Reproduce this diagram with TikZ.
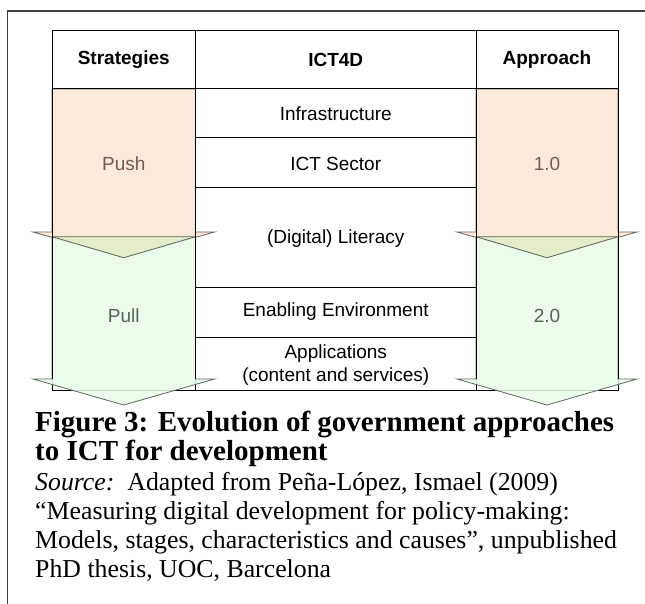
\documentclass[tikz,border=0pt]{standalone}
\usepackage{fontspec}
\setmainfont{Liberation Serif}
\newfontfamily\arialf{Liberation Sans}
\definecolor{pushfill}{HTML}{FDE9D9}
\definecolor{pullfill}{HTML}{E8FCE8}
\definecolor{mixfill}{HTML}{E6EDCC}
\definecolor{arrline}{HTML}{5F665F}
\definecolor{pushtxt}{HTML}{6E5E52}
\definecolor{pulltxt}{HTML}{55655A}
\begin{document}
\begin{tikzpicture}[x=1pt,y=-1pt,
  tline/.style={line width=1pt,black},
  arrout/.style={draw=arrline,line width=0.8pt,line join=miter},
  hdr/.style={font=\arialf\fontsize{19}{23}\selectfont\bfseries,inner sep=0pt},
  cell/.style={font=\arialf\fontsize{19}{23.5}\selectfont,inner sep=0pt,align=center},
  pushlbl/.style={cell,text=pushtxt},
  pulllbl/.style={cell,text=pulltxt},
  capbold/.style={font=\fontsize{29}{30}\selectfont\bfseries,inner sep=0pt,anchor=base west},
  capnorm/.style={font=\fontsize{25.8}{29}\selectfont,inner sep=0pt,anchor=base west}]
\useasboundingbox (0,0) rectangle (645,604);
% frame
\draw[line width=1.6pt,black!75] (7.5,604) -- (7.5,11) -- (645,11);
% table lines (base layer)
\draw[tline] (52,30.7) rectangle (618,390.7);
\draw[tline] (52,89) -- (618,89);
\draw[tline] (195.5,30.7) -- (195.5,390.7);
\draw[tline] (476,30.7) -- (476,390.7);
\foreach \yy in {138,188,287,337} \draw[tline] (195.5,\yy) -- (476,\yy);
% arrows
\foreach \xa/\xb in {52/195.5,476/618}{
  \pgfmathsetmacro{\xc}{(\xa+\xb)/2}
  \pgfmathsetmacro{\xl}{\xa-19}
  \pgfmathsetmacro{\xr}{\xb+19}
  % orange (push) arrow
  \filldraw[fill=pushfill,arrout] (\xa,89) -- (\xb,89) -- (\xb,232) -- (\xr,232)
     -- (\xc,257.7) -- (\xl,232) -- (\xa,232) -- cycle;
  % green (pull) arrow
  \fill[pullfill,fill opacity=0.85] (\xa,236.7) -- (\xb,236.7) -- (\xb,379) -- (\xr,379)
     -- (\xc,405) -- (\xl,379) -- (\xa,379) -- cycle;
  \begin{scope}
    \clip (\xa,236.7) rectangle (\xb,379);
    \fill[mixfill] (\xl,232) -- (\xr,232) -- (\xc,257.7) -- cycle;
  \end{scope}
  \draw[arrout] (\xa,236.7) -- (\xa,236.7) (\xa+1,236.7+0.28) -- (\xc,257.7) -- (\xb-1,236.7+0.28);
  \draw[arrout] (\xa,236.7) -- (\xb,236.7) -- (\xb,379) -- (\xr,379)
     -- (\xc,405) -- (\xl,379) -- (\xa,379) -- cycle;
}
% table lines on top
\draw[tline] (52,30.7) -- (618,30.7);
\draw[tline] (52,89) -- (618,89);
\foreach \xx in {52,195.5,476,618} \draw[tline] (\xx,30.7) -- (\xx,379);
\foreach \yy in {138,188,287,337} \draw[tline] (195.5,\yy) -- (476,\yy);
\draw[tline] (195.5,390.7) -- (476,390.7);
% headers
\node[hdr] (hstrat) at (123.75,60) {Strategies};
\node[hdr] (hict) at (335.75,60) {ICT4D};
\node[hdr] (happ) at (547,60) {Approach};
% cells
\node[pushlbl] (push) at (123.75,164) {Push};
\node[pushlbl] (v1) at (547,164) {1.0};
\node[pulllbl] (pull) at (123.75,316) {Pull};
\node[pulllbl] (v2) at (547,316) {2.0};
\node[cell] (infra) at (335.75,114) {Infrastructure};
\node[cell] (sector) at (335.75,164) {ICT Sector};
\node[cell] (lit) at (335.75,239) {(Digital) Literacy};
\node[cell] (env) at (335.75,312) {Enabling Environment};
\node[cell] (apps) at (335.75,365) {Applications\\(content and services)};
% caption
\node[capbold] (cap1) at (35,431) {Figure 3: Evolution of government approaches};
\node[capbold] (cap2) at (35,460) {to ICT for development};
\node[capnorm] (src1) at (35,490) {\textit{Source:}\ \ Adapted from Peña-López, Ismael (2009)};
\node[capnorm] (src2) at (35,519) {“Measuring digital development for policy-making:};
\node[capnorm] (src3) at (35,548) {Models, stages, characteristics and causes”, unpublished};
\node[capnorm] (src4) at (35,577) {PhD thesis, UOC, Barcelona};
\end{tikzpicture}
\end{document}
